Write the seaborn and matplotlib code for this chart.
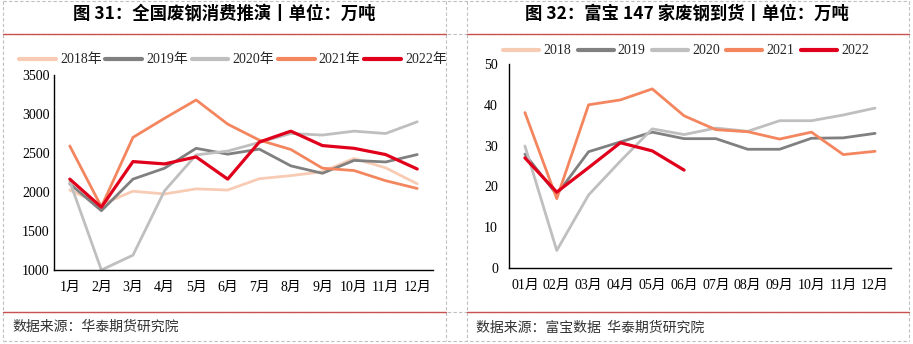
import numpy as np
import pandas as pd
import matplotlib
matplotlib.use("Agg")
import matplotlib.pyplot as plt
import seaborn as sns
from matplotlib.lines import Line2D

# ---------------- data ----------------
years_left = ["2018年", "2019年", "2020年", "2021年", "2022年"]
years_right = ["2018", "2019", "2020", "2021", "2022"]
months_left = ["1月", "2月", "3月", "4月", "5月", "6月", "7月", "8月", "9月", "10月", "11月", "12月"]
months_right = ["01月", "02月", "03月", "04月", "05月", "06月", "07月", "08月", "09月", "10月", "11月", "12月"]

cons_2018 = [2025, 1840, 2010, 1975, 2040, 2025, 2170, 2210, 2260, 2430, 2310, 2105]
cons_2019 = [2105, 1760, 2165, 2305, 2560, 2485, 2550, 2335, 2240, 2405, 2385, 2480]
cons_2020 = [2135, 1000, 1190, 2015, 2475, 2525, 2635, 2750, 2730, 2780, 2750, 2900]
cons_2021 = [2590, 1810, 2700, 2945, 3180, 2870, 2665, 2545, 2305, 2275, 2145, 2045]
cons_2022 = [2165, 1805, 2390, 2360, 2450, 2165, 2640, 2780, 2595, 2560, 2480, 2295]

arr_2018 = [np.nan] * 12
arr_2019 = [27.9, 18.0, 28.5, 30.9, 33.3, 31.7, 31.7, 29.1, 29.1, 31.8, 31.9, 33.0]
arr_2020 = [29.9, 4.3, 17.9, 26.2, 34.1, 32.7, 34.3, 33.5, 36.1, 36.1, 37.5, 39.2]
arr_2021 = [38.1, 17.0, 40.0, 41.2, 43.9, 37.3, 33.9, 33.4, 31.6, 33.3, 27.8, 28.6]
arr_2022 = [27.0, 18.6, 24.6, 30.7, 28.7, 24.0] + [np.nan] * 6

colors = ["#F8CBB4", "#808080", "#BFBFBF", "#F4865F", "#E1001B"]
widths = [2.0, 2.0, 2.0, 2.0, 2.3]

# ---------------- frames ----------------
def long_df(series, years):
    rows = []
    for y, vals in zip(years, series):
        for i, v in enumerate(vals):
            rows.append({"year": y, "m": i, "v": v})
    return pd.DataFrame(rows)

df_left = long_df([cons_2018, cons_2019, cons_2020, cons_2021, cons_2022], years_left)
df_right = long_df([arr_2018, arr_2019, arr_2020, arr_2021, arr_2022], years_right)

sns.set_theme(style="white")
plt.rcParams["font.family"] = ["Liberation Serif", "Noto Sans CJK SC", "DejaVu Sans"]
plt.rcParams["axes.unicode_minus"] = False

W, H = 913, 344
fig = plt.figure(figsize=(W / 100, H / 100), dpi=100)
fig.patch.set_facecolor("white")

def fx(px):
    return px / W

def fy(py):
    return 1 - py / H

axL = fig.add_axes([fx(54), fy(270), fx(433) - fx(54), fy(75) - fy(270)])
axR = fig.add_axes([fx(509), fy(268), fx(891) - fx(509), fy(64) - fy(268)])

tick_font = dict(family=["Liberation Serif", "Noto Sans CJK SC"], size=10)

def draw(ax, df, years, months, ylim, yticks, tickdir):
    pal = dict(zip(years, colors))
    for y, w in zip(years, widths):
        sub = df[df["year"] == y]
        sns.lineplot(data=sub, x="m", y="v", color=pal[y], linewidth=w, ax=ax,
                     legend=False, estimator=None, sort=False)
    ax.set_xlim(-0.5, 11.5)
    ax.set_ylim(*ylim)
    ax.set_yticks(yticks)
    ax.set_yticklabels([str(t) for t in yticks], fontdict=tick_font, color="black")
    ax.set_xticks(np.arange(12))
    ax.set_xticklabels(months, fontdict=tick_font, color="black")
    ax.set_xticks(np.arange(-0.5, 12, 1), minor=True)
    ax.tick_params(axis="x", which="major", length=0, pad=8)
    ax.tick_params(axis="x", which="minor", length=5, direction=tickdir, color="black", width=1)
    ax.tick_params(axis="y", length=5, direction=tickdir, color="black", width=1, pad=3)
    ax.set_xlabel("")
    ax.set_ylabel("")
    for s in ["top", "right"]:
        ax.spines[s].set_visible(False)
    for s in ["left", "bottom"]:
        ax.spines[s].set_color("black")
        ax.spines[s].set_linewidth(1)
    ax.set_facecolor("none")
    ax.grid(False)
    handles = [Line2D([0], [0], color=c, lw=3) for c in colors]
    return handles

hL = draw(axL, df_left, years_left, months_left, (1000, 3500), [1000, 1500, 2000, 2500, 3000, 3500], "in")
hR = draw(axR, df_right, years_right, months_right, (0, 50), [0, 10, 20, 30, 40, 50], "out")

leg_font = matplotlib.font_manager.FontProperties(family=["Liberation Serif", "Noto Sans CJK SC"], size=10)
fig.legend(hL, years_left, loc="center", bbox_to_anchor=(fx(233), fy(60)), ncol=5, frameon=False,
           prop=leg_font, handlelength=2.65, columnspacing=0.25, handletextpad=0.3)
fig.legend(hR, years_right, loc="center", bbox_to_anchor=(fx(686), fy(51)), ncol=5, frameon=False,
           prop=leg_font, handlelength=2.6, columnspacing=0.45, handletextpad=0.3)

# titles
title_font = dict(family=["Noto Sans CJK SC"], size=12.5, weight="bold", color="black")
fig.text(fx(224), fy(14), "图 31：全国废钢消费推演丨单位：万吨", ha="center", va="center", **title_font)
fig.text(fx(687), fy(14), "图 32：富宝 147 家废钢到货丨单位：万吨", ha="center", va="center", **title_font)

src_font = dict(family=["Noto Sans CJK SC"], size=10, color="#333333")
fig.text(fx(12), fy(327), "数据来源：华泰期货研究院", ha="left", va="center", **src_font)
fig.text(fx(476), fy(328), "数据来源：富宝数据  华泰期货研究院", ha="left", va="center", **src_font)

# frames: dashed borders and red separators
dash = dict(color="#BFBFBF", lw=0.8, ls=(0, (3, 2)), transform=fig.transFigure)
for xpx in [3, 446, 467, 909]:
    fig.add_artist(Line2D([fx(xpx), fx(xpx)], [fy(1), fy(341)], **dash))
for ypx in [1, 34, 312, 341]:
    fig.add_artist(Line2D([fx(3), fx(909)], [fy(ypx), fy(ypx)], **dash))
red = dict(color="#C9524E", lw=1.0, transform=fig.transFigure)
for ypx in [34, 312]:
    fig.add_artist(Line2D([fx(3), fx(446)], [fy(ypx), fy(ypx)], **red))
    fig.add_artist(Line2D([fx(467), fx(909)], [fy(ypx), fy(ypx)], **red))

fig.savefig("out.png", dpi=100, facecolor="white")
